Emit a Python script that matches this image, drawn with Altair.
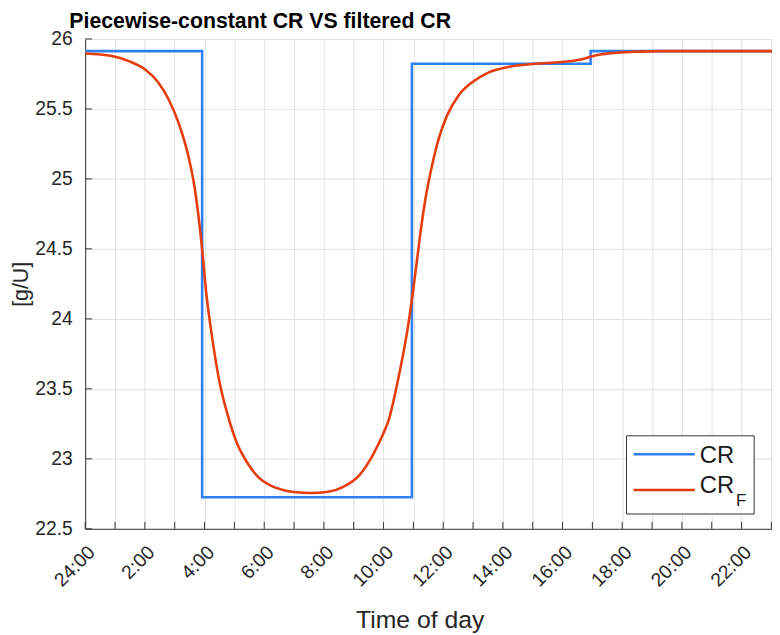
import altair as alt
import pandas as pd

# ---- data ----
cr_hours = [0.0, 3.92, 10.95, 16.94, 23.1]
cr_values = [25.913, 22.726, 25.823, 25.913, 25.913]

crf_hours = [0, 0.9, 1.46, 2.0, 2.45, 2.79, 3.12, 3.45, 3.67, 3.89, 4.06, 4.28, 4.5,
             4.78, 5.11, 5.44, 5.8, 6.2, 6.6, 7.0, 7.55, 8.1, 8.65, 9.2, 9.64, 9.97,
             10.19, 10.5, 10.8, 10.97, 11.08, 11.24, 11.41, 11.63, 11.85, 12.13, 12.51,
             12.96, 13.51, 14.17, 15.06, 15.94, 16.61, 16.94, 17.27, 17.71, 18.37,
             19.26, 21.0, 23.1]
crf_values = [25.896, 25.878, 25.842, 25.783, 25.689, 25.571, 25.406, 25.171, 24.935,
              24.56, 24.18, 23.83, 23.55, 23.31, 23.10, 22.97, 22.87, 22.81, 22.78,
              22.763, 22.756, 22.763, 22.80, 22.886, 23.027, 23.17, 23.29, 23.58, 23.92,
              24.17, 24.35, 24.62, 24.865, 25.10, 25.288, 25.454, 25.595, 25.689, 25.76,
              25.80, 25.823, 25.835, 25.854, 25.873, 25.889, 25.90, 25.908, 25.913,
              25.913, 25.913]

x_ticks = list(range(24))
x_tick_labels = ["24:00", "", "2:00", "", "4:00", "", "6:00", "", "8:00", "", "10:00", "",
                 "12:00", "", "14:00", "", "16:00", "", "18:00", "", "20:00", "", "22:00", ""]
y_ticks = [22.5, 23, 23.5, 24, 24.5, 25, 25.5, 26]

series_names = ["CR", "CR"]
series_colors = ["#2f80f2", "#e63d0d"]

FONT = "Liberation Sans"
W, H = 694, 495
X_DOMAIN = [0, 23.02]
Y_DOMAIN = [22.5, 26]

cr_df = pd.DataFrame({"h": cr_hours, "v": cr_values})
crf_df = pd.DataFrame({"h": crf_hours, "v": crf_values})
xt_df = pd.DataFrame({"h": x_ticks})
yt_df = pd.DataFrame({"v": y_ticks})

label_js = "[" + ",".join("'%s'" % s for s in x_tick_labels) + "]"

x_axis = alt.Axis(values=x_ticks, labelExpr=label_js + "[datum.value]",
                  labelAngle=315, labelAlign="right", labelBaseline="top",
                  labelPadding=14, ticks=False, title="Time of day",
                  titleFontSize=25, titleFontWeight="normal", titleX=338, titleY=100,
                  titleBaseline="alphabetic", titleAlign="center")
y_axis = alt.Axis(values=y_ticks, format="~g", ticks=False, labelPadding=13,
                  title="[g/U]", titleFontSize=21.5, titleFontWeight="normal",
                  titleAngle=270, titleX=-53, titleY=H / 2, titleBaseline="bottom",
                  titleAlign="center")

X = alt.X("h:Q", scale=alt.Scale(domain=X_DOMAIN, nice=False, zero=False), axis=x_axis)
Y = alt.Y("v:Q", scale=alt.Scale(domain=Y_DOMAIN, nice=False, zero=False), axis=y_axis)

cr_line = alt.Chart(cr_df).mark_line(interpolate="step-after", color=series_colors[0],
                                     strokeWidth=2.6, clip=True).encode(x=X, y=Y)
crf_line = alt.Chart(crf_df).mark_line(interpolate="monotone", color=series_colors[1],
                                       strokeWidth=2.6, clip=True).encode(x=X, y=Y)

x_tick_marks = alt.Chart(xt_df).mark_rule(color="#333333", strokeWidth=1).encode(
    x=X, y=alt.value(H), y2=alt.value(H - 7))
y_tick_marks = alt.Chart(yt_df).mark_rule(color="#333333", strokeWidth=1).encode(
    y=Y, x=alt.value(0), x2=alt.value(7))

# ---- legend (box, sample lines, labels with subscript) ----
leg_box = alt.Chart(cr_df.head(1)).mark_rect(fill="white", stroke="#333333",
                                             strokeWidth=1).encode(
    x=alt.value(547), x2=alt.value(676), y=alt.value(401), y2=alt.value(480))
leg_line1 = alt.Chart(cr_df.head(1)).mark_rule(color=series_colors[0], strokeWidth=2.6).encode(
    x=alt.value(554), x2=alt.value(616), y=alt.value(419.7))
leg_line2 = alt.Chart(cr_df.head(1)).mark_rule(color=series_colors[1], strokeWidth=2.6).encode(
    x=alt.value(554), x2=alt.value(616), y=alt.value(455.7))
leg_txt1 = alt.Chart(cr_df.head(1)).mark_text(text=series_names[0], font=FONT, fontSize=24,
                                              align="left", baseline="alphabetic",
                                              color="#1a1a1a").encode(
    x=alt.value(621), y=alt.value(428.5))
leg_txt2 = alt.Chart(cr_df.head(1)).mark_text(text=series_names[1], font=FONT, fontSize=24,
                                              align="left", baseline="alphabetic",
                                              color="#1a1a1a").encode(
    x=alt.value(621), y=alt.value(459))
leg_sub = alt.Chart(cr_df.head(1)).mark_text(text="F", font=FONT, fontSize=17,
                                             align="left", baseline="alphabetic",
                                             color="#1a1a1a").encode(
    x=alt.value(657.5), y=alt.value(472))

chart = alt.layer(
    cr_line, crf_line, x_tick_marks, y_tick_marks,
    leg_box, leg_line1, leg_line2, leg_txt1, leg_txt2, leg_sub,
).properties(
    width=W, height=H,
    title=alt.TitleParams("Piecewise-constant CR VS filtered CR", font=FONT,
                          fontSize=21.5, fontWeight="bold", anchor="start", frame="group",
                          dx=-16, dy=3, offset=0, color="#000000"),
    autosize=alt.AutoSizeParams(type="none"),
    padding={"left": 78, "top": 28, "right": 0, "bottom": 104},
).configure_axis(
    labelFont=FONT, titleFont=FONT, labelFontSize=19.5, labelColor="#262626",
    titleColor="#262626", domainColor="#333333", domainWidth=1,
    gridColor="#e2e2e2", gridWidth=1,
).configure_view(stroke=None)

chart.save("out.html", embed_options={"renderer": "svg", "actions": False})
